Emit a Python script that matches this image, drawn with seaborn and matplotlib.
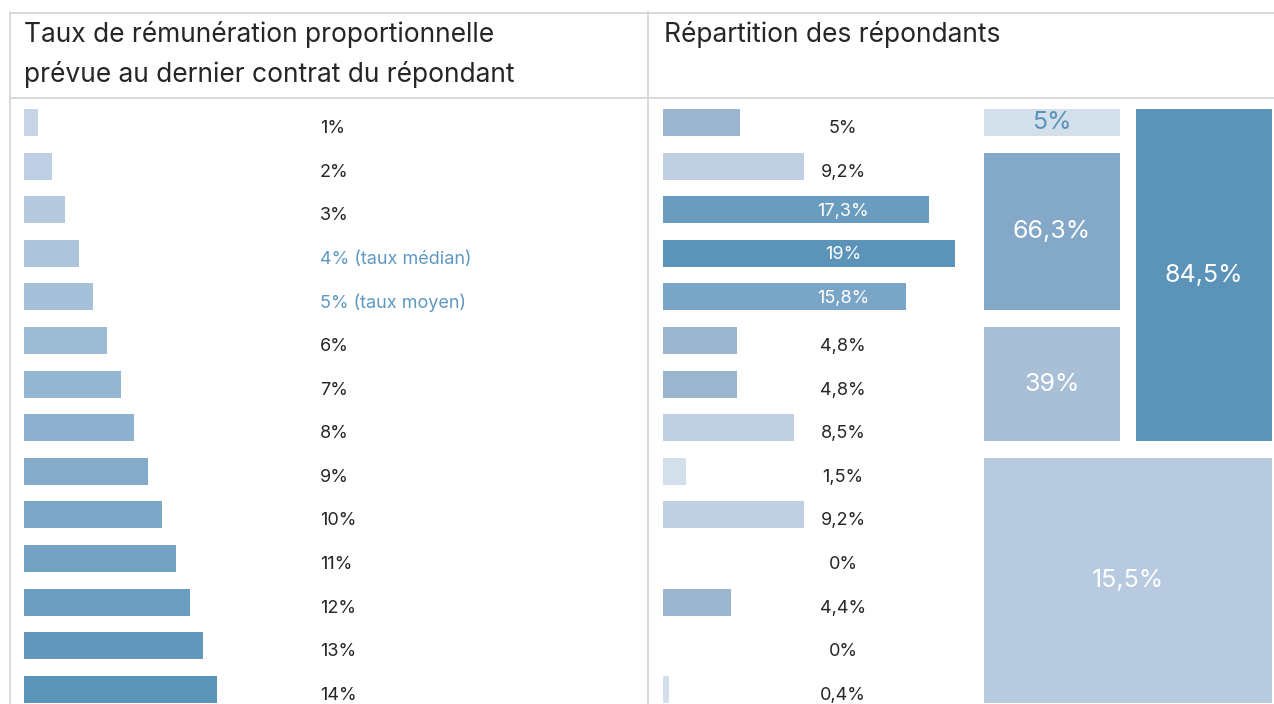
import numpy as np
import pandas as pd
import matplotlib
matplotlib.use("Agg")
import matplotlib.pyplot as plt
from matplotlib.colors import LinearSegmentedColormap
from matplotlib.lines import Line2D
import seaborn as sns

# ---------------- data ----------------
rates = [1, 2, 3, 4, 5, 6, 7, 8, 9, 10, 11, 12, 13, 14]
rate_notes = {4: " (taux médian)", 5: " (taux moyen)"}
share = [5, 9.2, 17.3, 19, 15.8, 4.8, 4.8, 8.5, 1.5, 9.2, 0, 4.4, 0, 0.4]
share_colors = ["#9ab6ce", "#c0cfe2", "#6a9cbf", "#5b93b9", "#79a5c6", "#9ab6ce", "#9ab6ce",
                "#c0cfe2", "#d3dfea", "#c0cfe2", "#ffffff", "#9ab6ce", "#ffffff", "#d3dfea"]

block_labels = ["5%", "66,3%", "39%", "84,5%", "15,5%"]
block_values = [5, 66.3, 39, 84.5, 15.5]
block_row_start = [0, 1, 5, 0, 8]
block_row_end = [0, 4, 7, 7, 13]
block_col = [0, 0, 0, 1, 0]
block_colspan = [1, 1, 1, 1, 2]
block_colors = ["#d3dfea", "#83a8c8", "#a9bfd6", "#5b93b9", "#b7cadf"]

title_left = ["Taux de rémunération proportionnelle", "prévue au dernier contrat du répondant"]
title_right = "Répartition des répondants"

# ---------------- style ----------------
sns.set_theme(style="white")
plt.rcParams['font.family'] = ['Inter', 'DejaVu Sans']

W, H = 1274, 704
fig = plt.figure(figsize=(W / 100, H / 100), dpi=100)
fig.patch.set_facecolor("white")

TEXT = "#262626"
HL = "#5f99c2"
GRID = "#d6d6d6"
VAL_FS = 13

n = len(rates)
row0, step = 122.5, 43.6          # pixel centre of first row and row pitch
top_px = row0 - 0.5 * step
bot_px = row0 + (n - 0.5) * step


def make_ax(left_px, width_px):
    ax = fig.add_axes([left_px / W, 1 - bot_px / H, width_px / W, (bot_px - top_px) / H])
    ax.set_axis_off()
    return ax


def lab_y(i):
    return i + 6 / step


# ---- left panel: rate bars ----
cmap = LinearSegmentedColormap.from_list("b", ["#c6d4e6", "#5b93b9"])
left_colors = [cmap((r - min(rates)) / (max(rates) - min(rates))) for r in rates]
df_l = pd.DataFrame({"cat": [f"{r}%" for r in rates], "val": rates})
axl = make_ax(24, 616)
sns.barplot(data=df_l, x="val", y="cat", hue="cat", palette=left_colors, legend=False,
            orient="h", width=0.62, ax=axl, saturation=1, linewidth=0)
axl.set_ylim(n - 0.5, -0.5)
axl.set_xlim(0, 616 / 13.8)
axl.set_axis_off()
for i, r in enumerate(rates):
    note = rate_notes.get(r, "")
    axl.text((320 - 24) / 616, lab_y(i), f"{r}%{note}", transform=axl.get_yaxis_transform(),
             ha="left", va="center", fontsize=VAL_FS, color=HL if note else TEXT)

# ---- middle panel: share bars ----
df_m = pd.DataFrame({"cat": [f"r{i}" for i in range(n)], "val": share})
axm = make_ax(663, 312)
sns.barplot(data=df_m, x="val", y="cat", hue="cat", palette=share_colors, legend=False,
            orient="h", width=0.62, ax=axm, saturation=1, linewidth=0)
axm.set_ylim(n - 0.5, -0.5)
scale_m = 15.37
axm.set_xlim(0, 312 / scale_m)
axm.set_axis_off()
lab_x_px = 843 - 663
for i, v in enumerate(share):
    txt = f"{v:g}".replace(".", ",") + "%"
    inside = v * scale_m > lab_x_px + 30
    axm.text(lab_x_px / 312, (i + 1.5 / step if inside else lab_y(i)), txt,
             transform=axm.get_yaxis_transform(),
             ha="center", va="center", fontsize=VAL_FS, color="white" if inside else TEXT)

# ---- right panel: grouped blocks ----
axr = make_ax(984, 288)
col_w, gap = 136, 16
half = 0.31
for lab, val, s, e, c, cs, colr in zip(block_labels, block_values, block_row_start,
                                       block_row_end, block_col, block_colspan, block_colors):
    x0 = c * (col_w + gap)
    w = cs * col_w + (cs - 1) * gap
    axr.bar(x0, (e - s) + 2 * half, bottom=s - half, width=w, align="edge",
            color=colr, linewidth=0)
    tcol = "#5b93b9" if val < 10 else "white"
    axr.text(x0 + w / 2, (s + e) / 2, lab, ha="center", va="center", fontsize=18, color=tcol)
axr.set_xlim(0, 288)
axr.set_ylim(n - 0.5, -0.5)
axr.set_axis_off()

# ---- table frame & headers ----
def line(x0, y0, x1, y1):
    fig.add_artist(Line2D([x0 / W, x1 / W], [1 - y0 / H, 1 - y1 / H], color=GRID, lw=1.3,
                          transform=fig.transFigure))

line(10, 12.5, W, 12.5)
line(10, 98, W, 98)
line(10, 12, 10, H)
line(648, 12, 648, H)

fig.text(24 / W, 1 - 34 / H, title_left[0], ha="left", va="center", fontsize=19, color=TEXT)
fig.text(24 / W, 1 - 74 / H, title_left[1], ha="left", va="center", fontsize=19, color=TEXT)
fig.text(664 / W, 1 - 34 / H, title_right, ha="left", va="center", fontsize=19, color=TEXT)

fig.savefig("out.png", dpi=100, facecolor="white")
